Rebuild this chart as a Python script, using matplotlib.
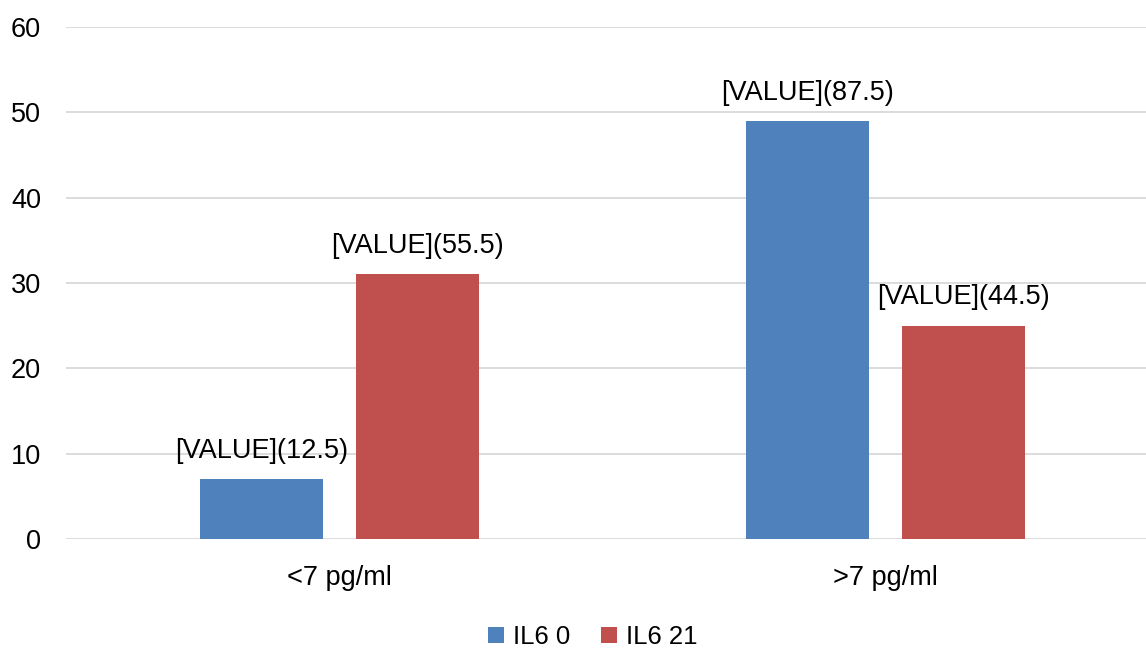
import matplotlib.pyplot as plt
import numpy as np

plt.rcParams["font.family"] = ["Liberation Sans", "DejaVu Sans"]

categories = ["<7 pg/ml", ">7 pg/ml"]
series_names = ["IL6 0", "IL6 21"]
il6_0 = [7, 49]
il6_21 = [31, 25]
labels_0 = ["[VALUE](12.5)", "[VALUE](87.5)"]
labels_21 = ["[VALUE](55.5)", "[VALUE](44.5)"]

COLORS = ["#4F81BD", "#C0504D"]
FS = 19.5

fig = plt.figure(figsize=(11.46, 6.51), dpi=100)
ax = fig.add_axes([66 / 1146, 1 - 539 / 651, 1 - 66 / 1146, (539 - 27) / 651])

x = np.arange(len(categories))
width = 0.225
offset = 0.143

for i, (vals, labs) in enumerate([(il6_0, labels_0), (il6_21, labels_21)]):
    xs = x + (i * 2 - 1) * offset
    bars = ax.bar(xs, vals, width=width, color=COLORS[i], label=series_names[i], zorder=2)
    for b, lab in zip(bars, labs):
        ax.annotate(lab, (b.get_x() + b.get_width() / 2, b.get_height()),
                    xytext=(0, 11), textcoords="offset points",
                    ha="center", va="bottom", fontsize=FS)

ax.set_ylim(0, 60)
ax.set_yticks(range(0, 61, 10))
ax.set_xlim(-0.501, 1.477)
ax.set_xticks(x)
ax.set_xticklabels(categories)
ax.tick_params(axis="x", length=0, pad=19, labelsize=FS)
ax.tick_params(axis="y", length=0, pad=18, labelsize=FS)
ax.grid(axis="y", color="#D9D9D9", linewidth=1.3, zorder=0)
for s in ax.spines.values():
    s.set_visible(False)

# legend sits centred under the plot
leg = fig.legend(loc="center", bbox_to_anchor=(593 / 1146, 1 - 637 / 651), ncol=2,
                 frameon=False, fontsize=18.5, handlelength=0.62, handleheight=0.62,
                 handletextpad=0.35, columnspacing=1.2)

fig.savefig("out.png", dpi=100)
